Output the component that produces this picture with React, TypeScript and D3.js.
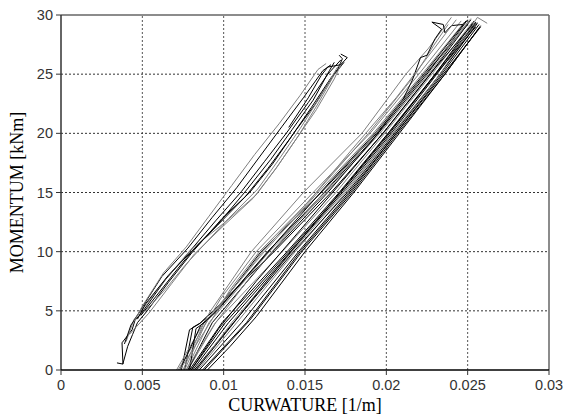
import * as d3 from 'd3';

// axis ticks
const xTicks = [0, 0.005, 0.01, 0.015, 0.02, 0.025, 0.03];
const xTickLabels = ['0', '0.005', '0.01', '0.015', '0.02', '0.025', '0.03'];
const yTicks = [0, 5, 10, 15, 20, 25, 30];
const yTickLabels = ['0', '5', '10', '15', '20', '25', '30'];

// left bundle of cycles [curvature, moment]
const leftCycles: [number, number][][] = [
  [[0.00344, 0.6], [0.00381, 0.5], [0.00375, 2.3], [0.00437, 3.4], [0.00455, 4.2], [0.0050, 4.9], [0.0064, 7.6], [0.0079, 10.0], [0.0095, 12.6], [0.0111, 15.1], [0.0125, 17.6], [0.0139, 20.1], [0.0152, 22.6], [0.0164, 25.0], [0.0172, 26.2]],
  [[0.0038, 0.5], [0.0041, 2.0], [0.0044, 3.0], [0.0047, 4.0], [0.0053, 5.0], [0.0066, 7.4], [0.0081, 10.0], [0.0099, 12.8], [0.0116, 15.0], [0.0130, 17.4], [0.0143, 20.0], [0.0156, 22.4], [0.0167, 24.8], [0.0174, 26.0]],
  [[0.0040, 2.4], [0.0045, 4.3], [0.0051, 5.3], [0.0065, 7.8], [0.0080, 10.2], [0.0101, 12.5], [0.0120, 14.8], [0.0133, 17.2], [0.0146, 19.8], [0.0158, 22.5], [0.0169, 25.2], [0.0173, 25.9]],
  [[0.0039, 2.2], [0.0043, 3.8], [0.0046, 4.4], [0.0049, 5.1], [0.0062, 7.9], [0.0078, 10.3], [0.0093, 12.9], [0.0108, 15.4], [0.0122, 18.0], [0.0136, 20.6], [0.0149, 23.0], [0.0161, 25.3], [0.0166, 25.8]],
  [[0.0042, 3.0], [0.0046, 3.6], [0.0054, 4.8], [0.0068, 7.3], [0.0082, 9.8], [0.0100, 12.2], [0.0118, 14.5], [0.0132, 17.0], [0.0145, 19.6], [0.0157, 22.0], [0.0168, 24.6], [0.0171, 25.5]],
  [[0.0047, 4.3], [0.0052, 5.6], [0.0066, 8.0], [0.0080, 10.0], [0.0096, 12.2], [0.0113, 14.6], [0.0127, 17.0], [0.0141, 19.6], [0.0154, 22.2], [0.0166, 24.7], [0.0170, 25.4], [0.0173, 26.3], [0.0171, 26.6]],
  [[0.0045, 4.1], [0.0050, 5.4], [0.0063, 8.2], [0.0077, 10.4], [0.0091, 13.0], [0.0105, 15.6], [0.0119, 18.2], [0.0134, 20.8], [0.0147, 23.2], [0.0158, 25.4], [0.0163, 25.9]],
  [[0.0049, 4.6], [0.0060, 6.5], [0.0072, 8.6], [0.0081, 10.1], [0.0097, 12.4], [0.0114, 15.2], [0.0129, 17.8], [0.0142, 20.3], [0.0155, 22.8], [0.0165, 25.3], [0.0168, 26.0]],
  [[0.0052, 5.0], [0.0064, 6.8], [0.0076, 8.8], [0.0084, 10.0], [0.0103, 12.8], [0.0121, 15.3], [0.0134, 17.8], [0.0147, 20.4], [0.0159, 23.0], [0.0170, 25.6], [0.0173, 26.0]],
  [[0.0140, 20.5], [0.0152, 23.0], [0.0160, 24.9], [0.0164, 25.6], [0.0172, 25.8], [0.0176, 26.4], [0.0172, 26.7]],
];
const leftColors = ['#000', '#000', '#808080', '#000', '#808080', '#000', '#808080', '#000', '#808080', '#000'];

// right bundle of cycles
const rightCycles: [number, number][][] = [
  [[0.0090, 0], [0.0104, 2], [0.0120, 4.5], [0.0150, 10], [0.0180, 15], [0.0208, 20], [0.0236, 25], [0.0258, 29.1]],
  [[0.0087, 0], [0.0114, 4], [0.0147, 10], [0.0178, 15], [0.0206, 20], [0.0234, 25], [0.0257, 29.2]],
  [[0.0084, 0], [0.0108, 4], [0.0144, 10], [0.0175, 15], [0.0204, 20], [0.0233, 25], [0.0256, 29.4]],
  [[0.0081, 0], [0.0103, 4], [0.0141, 10], [0.0173, 15], [0.0203, 20], [0.0231, 25], [0.0255, 29.3]],
  [[0.0079, 0], [0.0099, 4], [0.0139, 10], [0.0171, 15], [0.0201, 20], [0.0230, 25], [0.0254, 29.5]],
  [[0.0078, 0], [0.0095, 4], [0.0136, 10], [0.0169, 15], [0.0199, 20], [0.0228, 25], [0.0253, 29.4]],
  [[0.0076, 0], [0.0081, 3.6], [0.0086, 4.0], [0.0101, 6.0], [0.0131, 10], [0.0166, 15], [0.0198, 20], [0.0227, 25], [0.0252, 29.6]],
  [[0.0074, 0], [0.0079, 3.4], [0.0085, 3.9], [0.0099, 5.7], [0.0123, 10], [0.0160, 15], [0.0194, 20], [0.0224, 25], [0.0250, 29.2]],
  [[0.0072, 0], [0.0085, 3], [0.0098, 6], [0.0120, 10], [0.0155, 15], [0.0190, 20], [0.0220, 25], [0.0246, 29.5]],
  [[0.0071, 0], [0.0092, 5], [0.0117, 10], [0.0149, 15], [0.0185, 20], [0.0212, 25], [0.0226, 27.2], [0.0240, 29.8]],
  [[0.0082, 0], [0.0106, 4], [0.0143, 10], [0.0176, 15], [0.0205, 20], [0.0233, 25], [0.0256, 29.3]],
  [[0.0080, 0], [0.0101, 4], [0.0140, 10], [0.0172, 15], [0.0202, 20], [0.0230, 25], [0.0255, 29.4]],
  [[0.0077, 0], [0.0091, 4], [0.0128, 10], [0.0163, 15], [0.0196, 20], [0.0226, 25], [0.0251, 29.5]],
  [[0.0075, 0], [0.0088, 4], [0.0125, 10], [0.0158, 15], [0.0192, 20], [0.0222, 25], [0.0248, 29.4]],
  [[0.0085, 0], [0.0111, 4], [0.0146, 10], [0.0177, 15], [0.0206, 20], [0.0235, 25], [0.0258, 29.0]],
  [[0.0079, 0], [0.0083, 3.5], [0.0090, 4.2], [0.0102, 6.0], [0.0127, 10], [0.0162, 15], [0.0195, 20], [0.0225, 25], [0.0250, 29.6]],
  [[0.0076, 0], [0.0089, 4], [0.0124, 10], [0.0157, 15], [0.0189, 20], [0.0218, 25], [0.0229, 27.4], [0.0238, 29.2]],
  [[0.0078, 0], [0.0093, 4], [0.0130, 10], [0.0164, 15], [0.0192, 19.5], [0.0210, 22.8], [0.0216, 24.5], [0.0221, 26.4], [0.0225, 26.6], [0.0230, 28.0], [0.0234, 28.8], [0.0228, 29.4], [0.0235, 29.2], [0.0236, 28.5], [0.0240, 29.1], [0.0247, 29.2]],
  [[0.0083, 0], [0.0105, 4], [0.0142, 10], [0.0174, 15], [0.0204, 20], [0.0233, 25], [0.0256, 29.8], [0.0262, 29.3]],
  [[0.0073, 0], [0.0080, 2], [0.0086, 3.8], [0.0096, 5.0], [0.0118, 8.5], [0.0137, 11.5], [0.0166, 16], [0.0193, 20], [0.0223, 25], [0.0249, 29.5]],
  [[0.0073, 0], [0.0088, 3.2], [0.0104, 6.8], [0.0122, 10], [0.0152, 14.2], [0.0178, 18.5], [0.0206, 23], [0.0224, 26.2], [0.0243, 29.6]],
  [[0.0088, 0], [0.0116, 4.2], [0.0148, 10], [0.0179, 15], [0.0207, 20], [0.0236, 25], [0.0257, 28.9]],
  [[0.0080, 0], [0.0097, 3.5], [0.0120, 7.5], [0.0145, 11.5], [0.0172, 15.8], [0.0199, 20.2], [0.0228, 25.2], [0.0253, 29.2]],
  [[0.0083, 0], [0.0104, 3.6], [0.0127, 7.6], [0.0151, 11.6], [0.0177, 15.9], [0.0203, 20.3], [0.0231, 25.1], [0.0255, 29.0]],
  [[0.0077, 0], [0.0094, 3.8], [0.0116, 7.8], [0.0141, 11.8], [0.0168, 16.0], [0.0197, 20.6], [0.0226, 25.4], [0.0252, 29.7]],
];
const rightColors = ['#000', '#000', '#808080', '#000', '#000', '#808080', '#000', '#000', '#808080', '#808080', '#000', '#000',
  '#808080', '#808080', '#000', '#000', '#808080', '#000', '#808080', '#000', '#808080', '#000', '#000', '#000', '#808080'];

function App() {
  const width = 566
  const height = 419
  const margin = { left: 61, right: 17, top: 15, bottom: 49 }

  const x = d3.scaleLinear().domain([0, 0.03]).range([margin.left, width - margin.right])
  const y = d3.scaleLinear().domain([0, 30]).range([height - margin.bottom, margin.top])

  const line = d3.line<[number, number]>()
    .x(d => x(d[0]))
    .y(d => y(d[1]))

  const x0 = x(0), x1 = x(0.03), y0 = y(0), y1 = y(30)

  return (
    <svg width={width} height={height} style={{ position: 'absolute', left: 0, top: 0, background: '#fff' }}>
      {/* grid */}
      {xTicks.slice(1, -1).map(t => (
        <line key={'gx' + t} x1={x(t)} x2={x(t)} y1={y0} y2={y1} stroke="#555" strokeDasharray="2,2" />
      ))}
      {yTicks.slice(1, -1).map(t => (
        <line key={'gy' + t} x1={x0} x2={x1} y1={y(t)} y2={y(t)} stroke="#333" strokeDasharray="2,2" />
      ))}

      {/* cycles */}
      {leftCycles.map((c, i) => (
        <path key={'l' + i} d={line(c) || ''} fill="none" stroke={leftColors[i]} strokeWidth={1} />
      ))}
      {rightCycles.map((c, i) => (
        <path key={'r' + i} d={line(c) || ''} fill="none" stroke={rightColors[i]} strokeWidth={1} />
      ))}

      {/* frame */}
      <line x1={x0} x2={x1} y1={y1} y2={y1} stroke="#666" strokeWidth={1.5} />
      <line x1={x1} x2={x1} y1={y1} y2={y0} stroke="#666" strokeWidth={1.5} />
      <line x1={x0} x2={x0} y1={y1} y2={y0} stroke="#333" strokeWidth={1.5} />
      <line x1={x0} x2={x1} y1={y0} y2={y0} stroke="#000" strokeWidth={1.5} />

      {/* ticks */}
      {xTicks.map((t, i) => (
        <g key={'tx' + t}>
          <line x1={x(t)} x2={x(t)} y1={y0} y2={y0 + 5} stroke="#333" />
          <text x={x(t)} y={y0 + 20} textAnchor="middle" fontFamily="Liberation Sans, Arial, sans-serif" fontSize={14.5} fill="#333">{xTickLabels[i]}</text>
        </g>
      ))}
      {yTicks.map((t, i) => (
        <g key={'ty' + t}>
          <line x1={x0 - 5} x2={x0} y1={y(t)} y2={y(t)} stroke="#333" />
          <text x={x0 - 8} y={y(t) + 5} textAnchor="end" fontFamily="Liberation Sans, Arial, sans-serif" fontSize={14.5} fill="#333">{yTickLabels[i]}</text>
        </g>
      ))}

      {/* axis titles */}
      <text x={(x0 + x1) / 2} y={411} textAnchor="middle" fontFamily="Liberation Serif, Times New Roman, serif" fontSize={18} fill="#000">CURWATURE [1/m]</text>
      <text transform={`translate(23,${(y0 + y1) / 2}) rotate(-90)`} textAnchor="middle" fontFamily="Liberation Serif, Times New Roman, serif" fontSize={18} fill="#000">MOMENTUM [kNm]</text>
    </svg>
  )
}

export default App
